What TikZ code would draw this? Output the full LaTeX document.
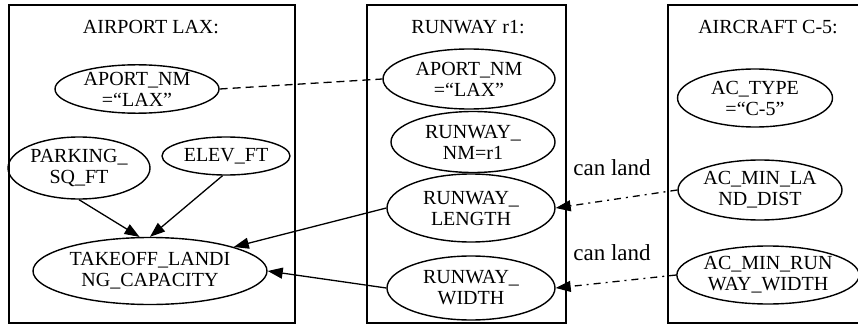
\documentclass[tikz,border=0pt]{standalone}
\usepackage{fontspec}
\setmainfont{Liberation Serif}
\usetikzlibrary{arrows.meta,shapes.geometric}
\tikzset{
  cluster/.style={draw, line width=1.6pt},
  attr/.style={draw, ellipse, line width=1.4pt, inner sep=0pt, align=center,
    font=\fontsize{20}{21}\selectfont},
  title/.style={font=\fontsize{20}{21}\selectfont, inner sep=0pt},
  edgelabel/.style={font=\fontsize{23}{24}\selectfont, inner sep=0pt},
  rel/.style={line width=1.3pt, -{Triangle[length=15pt,width=11pt]}},
  dashdot/.style={dash pattern=on 7pt off 5pt on 2pt off 5pt},
}
\begin{document}
\begin{tikzpicture}[x=1pt,y=-1pt]
\useasboundingbox (0,0) rectangle (858,326);
\clip (0,0) rectangle (858,326);

% clusters
\draw[cluster] (9,5) rectangle (295,323);
\draw[cluster] (367,5) rectangle (566,323);
\draw[cluster] (668,5) rectangle (880,323);

\node[title] (tAirport) at (151,27) {AIRPORT LAX:};
\node[title] (tRunway) at (468,27) {RUNWAY r1:};
\node[title] (tAircraft) at (768,27) {AIRCRAFT C-5:};

% airport attributes
\node[attr, minimum width=164pt, minimum height=48pt] (aNm) at (137,89) {APORT\_NM\\=“LAX”};
\node[attr, minimum width=142pt, minimum height=62pt] (aPark) at (79,168) {PARKING\_\\SQ\_FT};
\node[attr, minimum width=128pt, minimum height=38pt] (aElev) at (226,156) {ELEV\_FT};
\node[attr, minimum width=234pt, minimum height=67pt] (aCap) at (150,271) {TAKEOFF\_LANDI\\NG\_CAPACITY};

% runway attributes
\node[attr, minimum width=172pt, minimum height=60pt] (rNm) at (469,79) {APORT\_NM\\=“LAX”};
\node[attr, minimum width=164pt, minimum height=61pt] (rRw) at (473,142) {RUNWAY\_\\NM=r1};
\node[attr, minimum width=168pt, minimum height=68pt] (rLen) at (471,208) {RUNWAY\_\\LENGTH};
\node[attr, minimum width=168pt, minimum height=64pt] (rWid) at (471,288) {RUNWAY\_\\WIDTH};

% aircraft attributes
\node[attr, minimum width=155pt, minimum height=58pt] (cType) at (755,98) {AC\_TYPE\\=“C-5”};
\node[attr, minimum width=164pt, minimum height=60pt] (cLand) at (760,190) {AC\_MIN\_LA\\ND\_DIST};
\node[attr, minimum width=180pt, minimum height=58pt] (cWid) at (768,275) {AC\_MIN\_RUN\\WAY\_WIDTH};

% links
\draw[line width=1.3pt, dash pattern=on 8pt off 5pt] (aNm.east) -- (rNm.west);
\draw[rel] (aPark.south) -- (aCap.107);
\draw[rel] (aElev.-100) -- (aCap.north);
\draw[rel] (rLen.west) -- (aCap.16);
\draw[rel] (rWid.west) -- (aCap.east);
\draw[rel, dashdot] (cLand.west) -- (rLen.east);
\draw[rel, dashdot] (cWid.west) -- (rWid.east);
\node[edgelabel] (l1) at (612,168) {can land};
\node[edgelabel] (l2) at (612,253) {can land};
\end{tikzpicture}
\end{document}
